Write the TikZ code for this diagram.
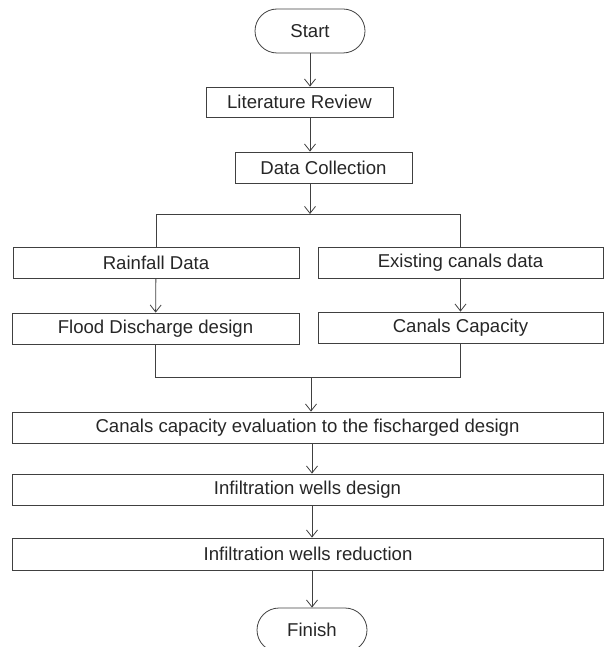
\documentclass[tikz,border=0pt]{standalone}
\usepackage{fontspec}
\setmainfont{Liberation Sans}
\usetikzlibrary{arrows.meta}
\begin{document}
\begin{tikzpicture}
[x=1pt, y=-1pt,
every node/.style={draw=black!75, text=black!85, font=\fontsize{18.6}{22}\selectfont, inner sep=0pt, minimum height=31pt, line width=0.8pt},
term/.style={rounded corners=22pt, minimum width=110pt, minimum height=44pt},
link/.style={draw=black!75, line width=0.8pt},
>={Straight Barb[length=7pt,width=11pt]}]
\useasboundingbox (0,0) rectangle (606,647);
% start and the first steps
\node[term] (start) at (310,31) {Start};
\node[minimum width=187pt, minimum height=30pt] (lit) at (299.5,102) {Literature Review};
\node[minimum width=177pt] (data) at (323.5,167.5) {Data Collection};
% two branches
\coordinate (split) at (0,214);
\node[minimum width=286pt] (rain) at (156,262.5) {Rainfall Data};
\node[minimum width=285pt] (exist) at (460.5,262.5) {Existing canals data};
\node[minimum width=287pt] (flood) at (155.5,328.5) {Flood Discharge design};
\node[minimum width=285pt] (cap) at (460.5,327.5) {Canals Capacity};
\coordinate (merge) at (0,377);
% evaluation and wells
\node[minimum width=591pt] (eval) at (307.5,427.5) {Canals capacity evaluation to the fischarged design};
\node[minimum width=591pt] (design) at (307.5,489.5) {Infiltration wells design};
\node[minimum width=591pt, minimum height=32pt] (reduce) at (308,554) {Infiltration wells reduction};
\node[term] (finish) at (312,630) {Finish};
% connectors
\draw[link,->] (start.south) -- (start.south |- lit.north);
\draw[link,->] (lit.south -| start) -- (data.north -| start);
\draw[link,->] (data.south -| start) -- (split -| start);
\draw[link] (rain.north) -- (rain.north |- split) -- (exist.north |- split) -- (exist.north);
\draw[link,->] (rain) -- (flood);
\draw[link,->] (exist) -- (cap);
\draw[link] (flood.south) -- (flood.south |- merge) -- (cap.south |- merge) -- (cap.south);
\draw[link,->] (merge -| 311,0) -- (eval.north -| 311,0);
\draw[link,->] (eval.south -| finish) -- (design.north -| finish);
\draw[link,->] (design.south -| finish) -- (reduce.north -| finish);
\draw[link,->] (reduce.south -| finish) -- (finish.north);
\end{tikzpicture}
\end{document}
